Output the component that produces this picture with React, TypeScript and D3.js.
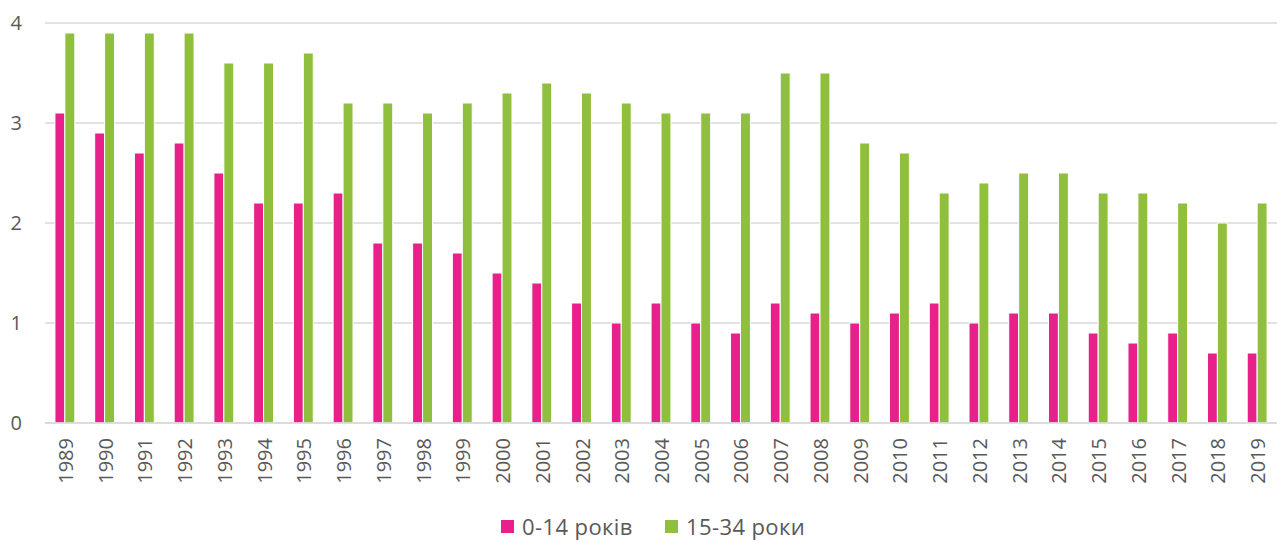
import React from "react";
import * as d3 from "d3";

const years = ["1989","1990","1991","1992","1993","1994","1995","1996","1997","1998","1999","2000","2001","2002","2003","2004","2005","2006","2007","2008","2009","2010","2011","2012","2013","2014","2015","2016","2017","2018","2019"];
const kids = [3.1,2.9,2.7,2.8,2.5,2.2,2.2,2.3,1.8,1.8,1.7,1.5,1.4,1.2,1.0,1.2,1.0,0.9,1.2,1.1,1.0,1.1,1.2,1.0,1.1,1.1,0.9,0.8,0.9,0.7,0.7];
const youth = [3.9,3.9,3.9,3.9,3.6,3.6,3.7,3.2,3.2,3.1,3.2,3.3,3.4,3.3,3.2,3.1,3.1,3.1,3.5,3.5,2.8,2.7,2.3,2.4,2.5,2.5,2.3,2.3,2.2,2.0,2.2];
const yTicks = [0,1,2,3,4];
const seriesNames = ["0-14 років", "15-34 роки"];
const colors = ["#E7208A", "#8FBF3C"];

export default function App() {
  const W = 1280, H = 541;
  const left = 45, right = 1277, top = 23, bottom = 423;
  const x = d3.scaleBand<string>().domain(years).range([left, right]).paddingInner(0.5).paddingOuter(0.25);
  const y = d3.scaleLinear().domain([0, 4]).range([bottom, top]);
  const bw = x.bandwidth() / 2;
  const font = "'Open Sans', sans-serif";
  return (
    <svg width={W} height={H} style={{ position: "absolute", left: 0, top: 0, background: "#fff" }} fontFamily={font}>
      {yTicks.map(t => (
        <g key={t}>
          <line x1={left} x2={right} y1={y(t)} y2={y(t)} stroke="#D9D9D9" strokeWidth={1.5} />
          <text x={22} y={y(t)} dy="0.35em" textAnchor="end" fontSize={20} fill="#595959">{t}</text>
        </g>
      ))}
      {years.map((yr, i) => {
        const x0 = x(yr)!;
        return (
          <g key={yr}>
            <rect x={x0} y={y(kids[i])} width={bw} height={y(0) - y(kids[i])} fill={colors[0]} stroke="#fff" strokeWidth={1} />
            <rect x={x0 + bw} y={y(youth[i])} width={bw} height={y(0) - y(youth[i])} fill={colors[1]} stroke="#fff" strokeWidth={1} />
            <text transform={`translate(${x0 + bw + 8},${438}) rotate(-90)`} textAnchor="end" fontSize={20} fill="#595959">{yr}</text>
          </g>
        );
      })}
      <line x1={left} x2={right} y1={bottom} y2={bottom} stroke="#D9D9D9" strokeWidth={1.5} />
      {seriesNames.map((s, i) => {
        const lx = [501, 665][i];
        return (
          <g key={s}>
            <rect x={lx} y={520} width={13} height={13} fill={colors[i]} />
            <text x={lx + 21} y={527} dy="0.35em" fontSize={22} letterSpacing={0.4} fill="#595959">{s}</text>
          </g>
        );
      })}
    </svg>
  );
}
